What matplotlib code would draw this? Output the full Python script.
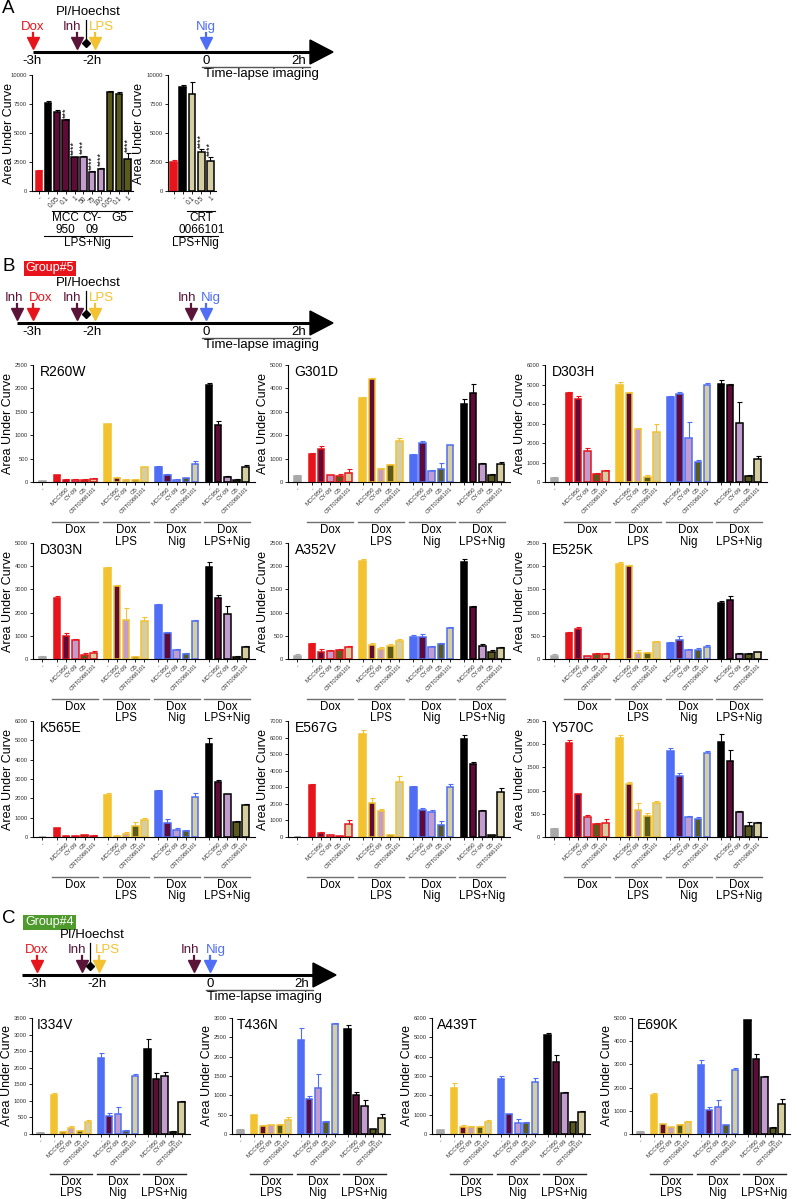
import matplotlib
matplotlib.use('Agg')
import matplotlib.pyplot as plt
import matplotlib.patches as mpatches

plt.rcParams['font.family'] = ['Liberation Sans', 'DejaVu Sans']

W, H = 798, 1199
fig = plt.figure(figsize=(W / 100, H / 100), dpi=100)

# colours
RED = '#e8141b'
YEL = '#f2c230'
BLU = '#4f6ef5'
BLK = '#000000'
GRY = '#a8a8a8'
MCC = '#5e0b37'
CYC = '#c29ccc'
G5C = '#5b5a1d'
CRT = '#d5cea2'
INH = '#5a1438'
INHIB = [MCC, CYC, G5C, CRT]
TREAT = ['-', 'MCC950', 'CY-09', 'G5', 'CRT0066101']

# ---- panel A data
a_labels = ['-', '-', '0.05', '0.1', '1', '50', '75', '100', '0.05', '0.1', '1']
a_vals = [1700, 7600, 6800, 6100, 2900, 2950, 1650, 1900, 8500, 8400, 2800]
a_err = [100, 150, 150, 80, 50, 50, 50, 80, 150, 150, 450]
a_stars = ['', '', '', '***', '****', '****', '****', '****', '', '', '****']
a2_labels = ['-', '-', '0.1', '0.5', '1']
a2_vals = [2500, 8950, 8400, 3350, 2550]
a2_err = [150, 150, 1000, 250, 350]
a2_stars = ['', '', '', '****', '****']

# ---- panel B data: gray, Dox x5, Dox LPS x5, Dox Nig x5, Dox LPS+Nig x5
R260W = [20, 150, 50, 50, 50, 70, 1230, 90, 50, 50, 310, 310, 160, 50, 75, 390, 2070, 1210, 100, 50, 330]
R260W_err = [10, 10, 10, 10, 10, 25, 15, 25, 10, 10, 15, 40, 20, 10, 15, 60, 40, 90, 20, 10, 40]
G301D = [250, 1180, 1400, 280, 270, 390, 3600, 4400, 570, 720, 1750, 1150, 1660, 480, 570, 1570, 3350, 3820, 780, 280, 780]
G301D_err = [30, 50, 150, 30, 80, 170, 30, 40, 30, 30, 130, 40, 100, 40, 230, 30, 200, 380, 50, 60, 80]
D303H = [200, 4550, 4250, 1580, 420, 550, 5000, 4550, 2720, 250, 2550, 4350, 4500, 2250, 1050, 4950, 5050, 4950, 3050, 330, 1200]
D303H_err = [40, 60, 150, 180, 50, 50, 150, 60, 40, 130, 420, 60, 100, 850, 60, 150, 200, 60, 1050, 40, 150]
D303N = [100, 2620, 1000, 800, 180, 280, 3920, 3150, 1700, 100, 1650, 2340, 1100, 380, 220, 1650, 3980, 2650, 1950, 100, 520]
D303N_err = [40, 100, 120, 80, 60, 80, 30, 60, 500, 20, 150, 30, 80, 50, 30, 50, 180, 100, 320, 20, 40]
A352V = [60, 320, 160, 170, 190, 260, 2120, 300, 215, 280, 390, 470, 480, 250, 330, 660, 2100, 1130, 280, 150, 230]
A352V_err = [40, 15, 60, 20, 20, 30, 40, 40, 50, 40, 50, 50, 50, 20, 20, 20, 50, 15, 40, 50, 30]
E525K = [60, 550, 640, 65, 110, 110, 2050, 2000, 130, 120, 370, 340, 420, 190, 190, 260, 1200, 1270, 110, 110, 150]
E525K_err = [40, 30, 40, 10, 30, 20, 50, 20, 70, 30, 20, 30, 80, 30, 50, 40, 60, 90, 10, 10, 10]
K565E = [10, 450, 40, 40, 80, 70, 2170, 50, 170, 550, 900, 2400, 730, 380, 300, 2080, 4800, 2860, 2210, 800, 1640]
K565E_err = [5, 40, 10, 10, 10, 10, 120, 10, 80, 220, 60, 20, 180, 60, 50, 180, 330, 100, 30, 40, 70]
E567G = [20, 3140, 230, 100, 60, 760, 6240, 2040, 1540, 100, 3340, 3000, 1640, 1500, 700, 3040, 5940, 4400, 1540, 100, 2740]
E567G_err = [20, 50, 50, 30, 10, 250, 240, 300, 140, 10, 340, 60, 80, 140, 240, 160, 240, 140, 100, 40, 200]
Y570C = [170, 2030, 920, 430, 270, 310, 2140, 1150, 590, 450, 730, 1860, 1320, 430, 390, 1820, 2050, 1640, 540, 240, 310]
Y570C_err = [20, 60, 10, 40, 30, 80, 50, 30, 140, 70, 50, 50, 60, 20, 50, 40, 170, 240, 10, 80, 10]

# ---- panel C data: gray, Dox LPS x5, Dox Nig x5, Dox LPS+Nig x5
I334V = [40, 1190, 70, 170, 80, 360, 2300, 550, 600, 80, 1740, 2550, 1650, 1750, 60, 980]
I334V_err = [15, 50, 10, 60, 30, 50, 130, 70, 200, 30, 80, 330, 200, 120, 20, 20]
T436N = [110, 490, 210, 220, 230, 350, 2420, 900, 1190, 320, 2850, 2720, 1010, 720, 120, 420]
T436N_err = [20, 10, 30, 10, 30, 80, 330, 80, 350, 20, 30, 110, 80, 150, 20, 90]
A439T = [200, 2400, 380, 380, 370, 630, 2850, 1030, 560, 590, 2700, 5100, 3750, 2100, 600, 1130]
A439T_err = [20, 250, 100, 30, 20, 100, 150, 30, 230, 40, 200, 100, 330, 60, 40, 40]
E690K = [100, 1700, 410, 300, 390, 530, 2980, 1020, 1170, 370, 2780, 4900, 3250, 2450, 270, 1290]
E690K_err = [30, 70, 20, 10, 20, 50, 200, 130, 300, 30, 60, 30, 200, 30, 30, 220]


def px(x0, y0, x1, y1):
    return [x0 / W, 1 - y1 / H, (x1 - x0) / W, (y1 - y0) / H]


# overlay in pixel coordinates for timelines and labels
ov = fig.add_axes([0, 0, 1, 1])
ov.set_xlim(0, W)
ov.set_ylim(H, 0)
ov.axis('off')


def timeline(y, x0, x1, events, hx):
    ov.plot([x0, x1], [y, y], color='k', lw=2.2, solid_capstyle='butt')
    ov.add_patch(mpatches.Polygon([[x1, y - 12], [x1, y + 12], [x1 + 23, y]], closed=True, color='k'))
    for x, lab, c, dx in events:
        if lab == 'PI':
            ov.plot([x, x], [y - 9, y - 32], color='k', lw=0.9)
            ov.plot(x, y - 9, marker='D', ms=4.5, color='k')
            ov.text(x + 2, y - 34, 'PI/Hoechst', ha='center', va='bottom', fontsize=9.5)
        else:
            ov.plot([x, x], [y - 19, y - 10], color=c, lw=1.6)
            ov.plot(x, y - 9, marker='v', ms=8, color=c, mec=c)
            ov.text(x + dx, y - 19, lab, color=c, ha='center', va='bottom', fontsize=9.5)
    for x, lab in zip(hx, ['-3h', '-2h', '0', '2h']):
        ov.text(x, y + 3, lab, ha='center', va='top', fontsize=9.5)
    ov.plot([hx[2] - 4, x1], [y + 15, y + 15], color='#555555', lw=1)
    ov.text((hx[2] + x1) / 2 + 3, y + 16, 'Time-lapse imaging', ha='center', va='top', fontsize=9.5)


def style(ax, ymax, step):
    ax.set_ylim(0, ymax)
    ax.set_yticks(range(0, ymax + 1, step))
    for s in ['top', 'right']:
        ax.spines[s].set_visible(False)
    for s in ['left', 'bottom']:
        ax.spines[s].set_linewidth(0.8)
    ax.tick_params(axis='y', labelsize=4.2, length=2.5, width=0.6, pad=1, labelcolor='#333333')
    ax.tick_params(axis='x', labelsize=4.3, length=2, width=0.6, pad=1, labelcolor='#333333')
    ax.set_ylabel('Area Under Curve', fontsize=9, labelpad=1)
    ax.patch.set_alpha(0)


def draw_bars(ax, pos, vals, errs, fill, edge):
    ax.bar(pos, vals, width=0.72, color=fill, edgecolor=edge, linewidth=1.1, zorder=2)
    for p, v, e, c in zip(pos, vals, errs, edge):
        ax.errorbar(p, v, yerr=[[0], [e]], fmt='none', ecolor=c, elinewidth=0.8,
                    capsize=1.8, capthick=0.8, zorder=1)


def group_plot(box, vals, errs, cols, names, ymax, step, title, lcol):
    ax = fig.add_axes(px(*box))
    pos, fill, edge, labs = [0.0], [GRY], [GRY], ['-']
    for g, c in enumerate(cols):
        for j in range(5):
            pos.append(1.6 + g * 5.5 + j)
            edge.append(c)
            fill.append(c if j == 0 else INHIB[j - 1])
            labs.append(TREAT[j])
    draw_bars(ax, pos, vals, errs, fill, edge)
    style(ax, ymax, step)
    ax.set_xlim(-1.0, pos[-1] + 1.0)
    ax.set_xticks(pos)
    ax.set_xticklabels(labs, rotation=45, ha='right', rotation_mode='anchor')
    tr = ax.get_xaxis_transform()
    for g, nm in enumerate(names):
        a = 1.6 + g * 5.5 - 0.5
        b = a + 5.0
        ax.plot([a, b], [-0.345, -0.345], color=lcol, lw=1, transform=tr, clip_on=False)
        ax.text((a + b) / 2, -0.36, nm, ha='center', va='top', fontsize=8.3,
                linespacing=0.95, transform=tr)
    ax.text(0.03, 1.0, title, transform=ax.transAxes, ha='left', va='top', fontsize=10)
    return ax


# ---------------- panel A
ov.text(2, 0, 'A', fontsize=13.5, va='top')
timeline(52, 33, 310, [(33, 'Dox', RED, 0), (77, 'Inh', INH, -5), (86, 'PI', BLK, 0),
                       (95, 'LPS', YEL, 6), (206, 'Nig', BLU, 0)], [32, 92, 206, 299])

axA = fig.add_axes(px(32, 75, 133, 191))
posA = list(range(len(a_vals)))
fillA = [RED, BLK, MCC, MCC, MCC, CYC, CYC, CYC, G5C, G5C, G5C]
edgeA = [RED, BLK] + [BLK] * 9
draw_bars(axA, posA, a_vals, a_err, fillA, edgeA)
style(axA, 10000, 2500)
axA.yaxis.set_label_coords(-0.165, 0.5)
axA.set_xlim(-0.8, 10.6)
axA.set_xticks(posA)
axA.set_xticklabels(a_labels, rotation=45, ha='right', rotation_mode='anchor', fontsize=4.8)
for p, v, e, s in zip(posA, a_vals, a_err, a_stars):
    if s:
        axA.text(p, v + e + 150, s, rotation=90, ha='center', va='bottom', fontsize=6.5)
trA = axA.get_xaxis_transform()
for a, b, nm in [(1.5, 4.45, 'MCC\n950'), (4.55, 7.45, 'CY-\n09'), (7.55, 10.5, 'G5')]:
    axA.plot([a, b], [-0.172, -0.172], color='k', lw=0.8, transform=trA, clip_on=False)
    axA.text((a + b) / 2, -0.185, nm, ha='center', va='top', fontsize=8.5, linespacing=0.95, transform=trA)
axA.plot([0.5, 10.5], [-0.388, -0.388], color='k', lw=0.8, transform=trA, clip_on=False)
axA.text(5.5, -0.4, 'LPS+Nig', ha='center', va='top', fontsize=8.5, transform=trA)

axA2 = fig.add_axes(px(168, 75, 216, 191))
posA2 = list(range(len(a2_vals)))
draw_bars(axA2, posA2, a2_vals, a2_err, [RED, BLK, CRT, CRT, CRT], [RED, BLK, BLK, BLK, BLK])
style(axA2, 10000, 2500)
axA2.set_xlim(-0.6, 4.6)
axA2.set_xticks(posA2)
axA2.set_xticklabels(a2_labels, rotation=45, ha='right', rotation_mode='anchor', fontsize=4.8)
for p, v, e, s in zip(posA2, a2_vals, a2_err, a2_stars):
    if s:
        axA2.text(p, v + e + 150, s, rotation=90, ha='center', va='bottom', fontsize=6.5)
trA2 = axA2.get_xaxis_transform()
axA2.plot([1.5, 4.5], [-0.172, -0.172], color='k', lw=0.8, transform=trA2, clip_on=False)
axA2.text(3.0, -0.185, 'CRT\n0066101', ha='center', va='top', fontsize=8.5, linespacing=0.95, transform=trA2)
axA2.plot([0.0, 4.8], [-0.388, -0.388], color='k', lw=0.8, transform=trA2, clip_on=False)
axA2.text(2.4, -0.4, 'LPS+Nig', ha='center', va='top', fontsize=8.5, transform=trA2)

# ---------------- panel B
ov.text(2, 258, 'B', fontsize=13.5, va='top')
ov.text(50, 268.5, 'Group#5', color='white', fontsize=9, ha='center', va='center',
        bbox=dict(boxstyle='square,pad=0.15', fc=RED, ec='none'))
timeline(323, 17, 310, [(17, 'Inh', INH, -3), (33, 'Dox', RED, 8), (77, 'Inh', INH, -5),
                        (86, 'PI', BLK, 0), (95, 'LPS', YEL, 6), (191, 'Inh', INH, -4),
                        (206, 'Nig', BLU, 5)], [32, 92, 206, 299])

B_names = ['Dox', 'Dox\nLPS', 'Dox\nNig', 'Dox\nLPS+Nig']
B_cols = [RED, YEL, BLU, BLK]
cols_x = [(33, 255), (288, 510), (545, 767)]
rows_y = [(365, 482), (543, 659), (721, 837)]
B_sets = [(R260W, R260W_err, 2500, 500, 'R260W'), (G301D, G301D_err, 5000, 1000, 'G301D'),
          (D303H, D303H_err, 6000, 1000, 'D303H'), (D303N, D303N_err, 5000, 1000, 'D303N'),
          (A352V, A352V_err, 2500, 500, 'A352V'), (E525K, E525K_err, 2500, 500, 'E525K'),
          (K565E, K565E_err, 6000, 1000, 'K565E'), (E567G, E567G_err, 7000, 1000, 'E567G'),
          (Y570C, Y570C_err, 2500, 500, 'Y570C')]
for i, (v, e, ym, st, t) in enumerate(B_sets):
    x0, x1 = cols_x[i % 3]
    y0, y1 = rows_y[i // 3]
    group_plot((x0, y0, x1, y1), v, e, B_cols, B_names, ym, st, t, '#6e6e6e')

# ---------------- panel C
ov.text(2, 910, 'C', fontsize=13.5, va='top')
ov.text(49.5, 922.5, 'Group#4', color='white', fontsize=9, ha='center', va='center',
        bbox=dict(boxstyle='square,pad=0.15', fc='#4f9a2c', ec='none'))
timeline(975, 22, 313, [(37, 'Dox', RED, 0), (82, 'Inh', INH, -5), (90, 'PI', BLK, 0),
                        (99, 'LPS', YEL, 8), (194, 'Inh', INH, -4), (210, 'Nig', BLU, 6)],
         [37, 97, 210, 302])

C_names = ['Dox\nLPS', 'Dox\nNig', 'Dox\nLPS+Nig']
C_cols = [YEL, BLU, BLK]
C_x = [(32, 190), (232, 390), (432, 590), (632, 790)]
C_sets = [(I334V, I334V_err, 3500, 500, 'I334V'), (T436N, T436N_err, 3000, 500, 'T436N'),
          (A439T, A439T_err, 6000, 1000, 'A439T'), (E690K, E690K_err, 5000, 1000, 'E690K')]
for (x0, x1), (v, e, ym, st, t) in zip(C_x, C_sets):
    group_plot((x0, 1018, x1, 1134), v, e, C_cols, C_names, ym, st, t, '#222222')

fig.savefig('out.png', dpi=100)
